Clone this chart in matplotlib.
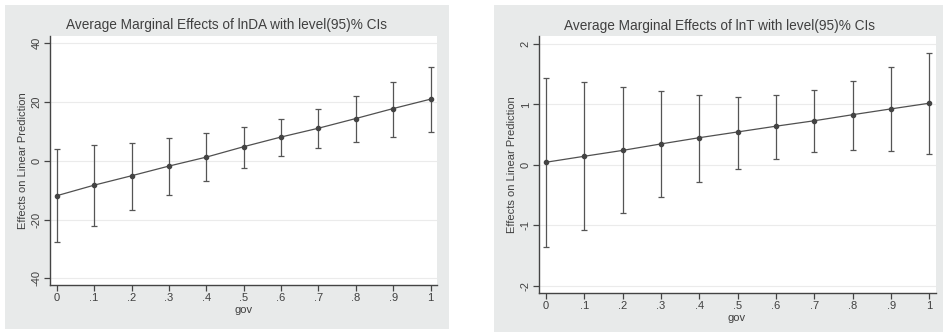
import matplotlib
matplotlib.use("Agg")
import matplotlib.pyplot as plt
from matplotlib.patches import Rectangle

plt.rcParams['font.family'] = ['Liberation Sans', 'DejaVu Sans']

gov = [0, .1, .2, .3, .4, .5, .6, .7, .8, .9, 1]
xtick_labels = ['0', '.1', '.2', '.3', '.4', '.5', '.6', '.7', '.8', '.9', '1']

lnDA_mean = [-11.9, -8.3, -5.1, -1.8, 1.25, 4.8, 8.1, 11.1, 14.4, 17.8, 21.0]
lnDA_upper = [3.9, 5.3, 6.2, 7.8, 9.4, 11.4, 14.2, 17.7, 22.2, 27.0, 32.0]
lnDA_lower = [-27.6, -22.3, -16.8, -11.7, -6.9, -2.4, 1.5, 4.2, 6.5, 8.2, 9.7]
lnDA_yticks = [-40, -20, 0, 20, 40]

lnT_mean = [0.044, 0.143, 0.24, 0.347, 0.45, 0.545, 0.64, 0.73, 0.83, 0.926, 1.02]
lnT_upper = [1.44, 1.37, 1.28, 1.22, 1.15, 1.12, 1.15, 1.24, 1.39, 1.61, 1.85]
lnT_lower = [-1.36, -1.07, -0.80, -0.53, -0.29, -0.07, 0.105, 0.215, 0.25, 0.23, 0.18]
lnT_yticks = [-2, -1, 0, 1, 2]
lnT_yticklabels = ['-2', '-1', '0', '1', '2']

W, H = 943, 333
fig = plt.figure(figsize=(W / 100, H / 100), dpi=100)
fig.patch.set_facecolor('white')

BG = '#e8eaea'
LC = '#444444'
TXT = '#404040'

def px(x0, y0, w, h):
    return [x0 / W, 1 - (y0 + h) / H, w / W, h / H]

fig.patches.append(Rectangle((5 / W, 1 - 329 / H), 444 / W, 324 / H,
                             transform=fig.transFigure, facecolor=BG, edgecolor='none', zorder=-5))
fig.patches.append(Rectangle((494 / W, 1 - 332 / H), 449 / W, 327 / H,
                             transform=fig.transFigure, facecolor=BG, edgecolor='none', zorder=-5))

def panel(rect, mean, lo, hi, yticks, yticklabels, ylim, title, title_xy, ylabel_x, xlabel_xy):
    ax = fig.add_axes(rect)
    ax.set_zorder(2)
    ax.set_facecolor('white')
    yerr = [[m - l for m, l in zip(mean, lo)], [h - m for m, h in zip(mean, hi)]]
    ax.plot(gov, mean, color='#505050', lw=0.9, zorder=3)
    ax.errorbar(gov, mean, yerr=yerr, fmt='o', color=LC, ms=3.0, ecolor='#555555',
                elinewidth=0.9, capsize=2.5, capthick=0.9, zorder=4)
    ax.set_xlim(-0.018, 1.017)
    ax.set_ylim(*ylim)
    ax.set_xticks(gov)
    ax.set_xticklabels(xtick_labels, fontsize=8, color=TXT)
    ax.set_yticks(yticks)
    ax.set_yticklabels(yticklabels, fontsize=8, color=TXT, rotation=90, va='center')
    for t in yticks:
        ax.axhline(t, color='#ebebeb', lw=0.8, zorder=1)
    for s in ['top', 'right']:
        ax.spines[s].set_visible(False)
    for s in ['left', 'bottom']:
        ax.spines[s].set_color(LC)
        ax.spines[s].set_linewidth(1.0)
    ax.tick_params(direction='out', length=4, width=0.9, color=LC, pad=2)
    fig.text(title_xy[0] / W, 1 - title_xy[1] / H, title, ha='center', va='center',
             fontsize=9.8, color=TXT)
    fig.text(ylabel_x / W, rect[1] + rect[3] / 2, 'Effects on Linear Prediction',
             rotation=90, ha='center', va='center', fontsize=8, color=TXT)
    fig.text(xlabel_xy[0] / W, 1 - xlabel_xy[1] / H, 'gov', ha='center', va='center',
             fontsize=8, color=TXT)
    return ax

panel(px(50, 36, 387, 249), lnDA_mean, lnDA_lower, lnDA_upper, lnDA_yticks,
      [str(t) for t in lnDA_yticks], (-42.3, 42.5),
      'Average Marginal Effects of lnDA with level(95)% CIs', (227, 25), 23, (244, 310))
panel(px(539, 36, 397, 257), lnT_mean, lnT_lower, lnT_upper, lnT_yticks,
      lnT_yticklabels, (-2.116, 2.13),
      'Average Marginal Effects of lnT with level(95)% CIs', (720, 26), 512, (737, 318))

fig.savefig('out.png', dpi=100, facecolor=fig.get_facecolor())
